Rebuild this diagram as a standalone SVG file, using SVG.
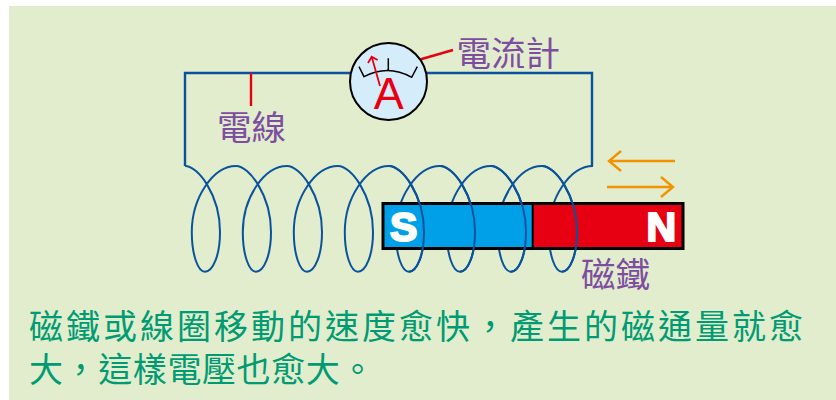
<svg xmlns="http://www.w3.org/2000/svg" width="836" height="400" viewBox="0 0 836 400">
<style>
.wire{fill:none;stroke:#0a539c;stroke-width:2.4}
.coil{fill:none;stroke:#0a539c;stroke-width:2}
.red{fill:none;stroke:#e60012;stroke-width:2.4}
.org{fill:none;stroke:#f39200;stroke-width:2.4}
.lab{font-family:"Noto Sans CJK TC","Noto Sans CJK SC",sans-serif;fill:#7d4e9f;font-size:34.5px}
.body{font-family:"Noto Sans CJK TC","Noto Sans CJK SC",sans-serif;fill:#009b72;font-size:34px}
.pole{font-family:"Liberation Sans",Arial,sans-serif;font-weight:bold;font-size:41px;fill:#fff;stroke:#fff;stroke-width:2.2}
</style>
<rect x="9" y="6" width="827" height="394" fill="#e2edce"/>
<g id="connectors">
<path class="wire" d="M185 166V73H592V166"/>
<path class="coil" d="M185 166c13 0 35 29 35 66c0 23-7 39.7-15 39.7c-7 0-13.2-16.7-13.2-39.7c0-34 21.2-66 44.2-66c13 0 35 29 35 66c0 23-7 39.7-15 39.7c-7 0-13.2-16.7-13.2-39.7c0-34 21.2-66 44.2-66c13 0 35 29 35 66c0 23-7 39.7-15 39.7c-7 0-13.2-16.7-13.2-39.7c0-34 21.2-66 44.2-66c13 0 35 29 35 66c0 23-7 39.7-15 39.7c-7 0-13.2-16.7-13.2-39.7c0-34 21.2-66 44.2-66c13 0 35 29 35 66c0 23-7 39.7-15 39.7c-7 0-13.2-16.7-13.2-39.7c0-34 21.2-66 44.2-66c13 0 35 29 35 66c0 23-7 39.7-15 39.7c-7 0-13.2-16.7-13.2-39.7c0-34 21.2-66 44.2-66c13 0 35 29 35 66c0 23-7 39.7-15 39.7c-7 0-13.2-16.7-13.2-39.7c0-34 21.2-66 44.2-66c13 0 35 29 35 66c0 23-7 39.7-15 39.7c-7 0-13.2-16.7-13.2-39.7c0-34 21.2-66 44.2-66"/>
<path class="red" d="M251 73V106"/>
<path class="red" d="M420 59.5L453 50"/>
<path class="org" d="M675 161H609M621 151L609 161L621 171"/>
<path class="org" d="M607 187H673M661 177L673 187L661 197"/>
</g>
<g id="magnet">
<rect x="383" y="203.5" width="150" height="45" fill="#00a0e9"/>
<rect x="533" y="203.5" width="150" height="45" fill="#e60012"/>
<rect x="383" y="203.5" width="300" height="45" fill="none" stroke="#000" stroke-width="3"/>
<path d="M532.7 203V249" stroke="#000" stroke-width="2" fill="none"/>
<text class="pole" x="390" y="241">S</text>
<text class="pole" x="646.5" y="241">N</text>
</g>
<g id="coil-front">
<path class="coil" d="M389 166c13 0 35 29 35 66c0 23-7 39.7-15 39.7"/>
<path class="coil" d="M440 166c13 0 35 29 35 66c0 23-7 39.7-15 39.7"/>
<path class="coil" d="M491 166c13 0 35 29 35 66c0 23-7 39.7-15 39.7"/>
<path class="coil" d="M542 166c13 0 35 29 35 66c0 23-7 39.7-15 39.7"/>
</g>
<g id="meter">
<circle cx="388.5" cy="81.5" r="38.5" fill="#d5ecfa" stroke="#000" stroke-width="2"/>
<path d="M359 66.7L364 76.7Q388 64 411.7 77.3L417.3 66.7M388.3 58.3V70" fill="none" stroke="#000" stroke-width="1.5"/>
<path d="M380 86L371.7 56.7M368 63L371.7 56.7L377.7 60" fill="none" stroke="#e60012" stroke-width="1.8"/>
<text x="388.7" y="109" text-anchor="middle" font-family="Liberation Sans, Arial, sans-serif" font-size="45" fill="#e60012">A</text>
</g>
<g id="label-meter"><text class="lab" x="456.5" y="65.5">電流計</text></g>
<g id="label-wire"><text class="lab" x="217" y="139.5">電線</text></g>
<g id="label-magnet"><text class="lab" x="581" y="286.5">磁鐵</text></g>
<g id="caption">
<text class="body" x="29" y="339" letter-spacing="3">磁鐵或線圈移動的速度愈快，產生的磁通量就愈</text>
<text class="body" x="29" y="382" letter-spacing="0.6">大，這樣電壓也愈大。</text>
</g>
</svg>
